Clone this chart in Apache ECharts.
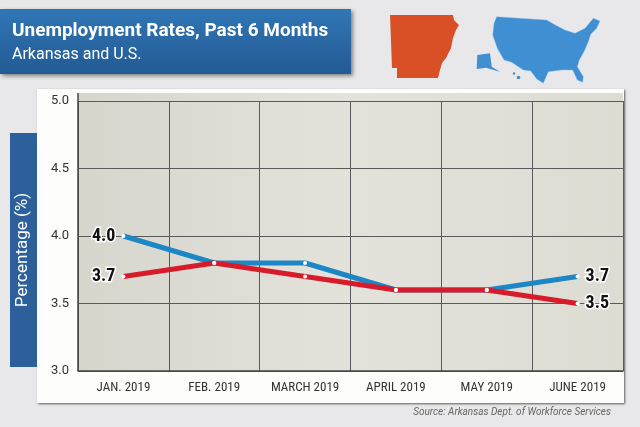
<!DOCTYPE html>
<html>
<head>
<meta charset="utf-8">
<script src="https://cdn.jsdelivr.net/npm/echarts@6/dist/echarts.min.js"></script>
<style>
  html, body { margin: 0; padding: 0; background: #e8e8ea; }
  #main { width: 640px; height: 427px; }
</style>
</head>
<body>
<div id="main"></div>
<script>
var months = ['JAN. 2019', 'FEB. 2019', 'MARCH 2019', 'APRIL 2019', 'MAY 2019', 'JUNE 2019'];
var usRates = [4.0, 3.8, 3.8, 3.6, 3.6, 3.7];
var arRates = [3.7, 3.8, 3.7, 3.6, 3.6, 3.5];
var yTicks = [3.0, 3.5, 4.0, 4.5, 5.0];

var condensed = '"Roboto Condensed", "Roboto", sans-serif';

// only first and last point get a value label
function withEndLabels(values) {
	var last = values.length - 1;
	return values.map(function (v, i) {
		return {
			value: v,
			label: {
				show: i === 0 || i === last,
				position: i === 0 ? 'left' : 'right',
				distance: 6
			}
		};
	});
}

var endLabel = {
	fontFamily: condensed,
	fontWeight: 'bold',
	fontSize: 18,
	color: '#111',
	textBorderColor: '#fff',
	textBorderWidth: 3,
	formatter: function (p) { return p.value.toFixed(1); }
};

var myChart = echarts.init(document.getElementById('main'));
var option = {
	backgroundColor: '#e8e8ea',
	animation: false,
	graphic: [
		// title box
		{
			type: 'rect', shape: { x: 0, y: 9, width: 351, height: 65 },
			style: {
				fill: new echarts.graphic.LinearGradient(0, 0, 0, 1, [
					{ offset: 0, color: '#3076b6' },
					{ offset: 1, color: '#235a92' }
				]),
				shadowBlur: 4, shadowColor: 'rgba(0,0,0,0.45)', shadowOffsetX: 2, shadowOffsetY: 2
			}
		},
		{
			type: 'text', left: 12, top: 22,
			style: { text: 'Unemployment Rates, Past 6 Months', fill: '#fff', font: 'bold 19px Roboto, sans-serif' }
		},
		{
			type: 'text', left: 12, top: 47,
			style: { text: 'Arkansas and U.S.', fill: '#fff', font: '16px Roboto, sans-serif' }
		},
		// Arkansas
		{
			type: 'polygon',
			shape: { points: [[390, 15], [453, 15], [454, 20], [459, 25], [456, 30], [453, 38], [451, 48], [446, 58], [442, 63], [440, 70], [438, 78], [397, 78], [397, 68], [392, 68]] },
			style: { fill: '#d94f26' }
		},
		// U.S.
		{
			type: 'polygon',
			shape: { points: [[496.7, 16.7], [546.7, 20], [556.7, 25.7], [565, 30], [575, 33.3], [585, 28.3], [593.3, 18.3], [600, 21], [596.7, 28.3], [590.7, 34.3], [588.3, 41.7], [584, 51.7], [579.3, 60], [577.3, 66.7], [583.3, 76.7], [582.7, 82.3], [577.3, 80], [572.7, 70], [561.7, 70], [548.3, 71.7], [543.3, 83.3], [536.7, 79], [530.7, 71], [523.3, 70], [511.7, 62.3], [504, 60], [497.3, 48.3], [492.7, 35], [494, 23.3]] },
			style: { fill: '#3f8fd2', stroke: '#8fc0ea', lineWidth: 0.4 }
		},
		{
			type: 'polygon',
			shape: { points: [[477.3, 55], [490, 53.3], [491.7, 66.7], [500, 71.7], [486, 67.7], [476.7, 69]] },
			style: { fill: '#3f8fd2' }
		},
		{ type: 'circle', shape: { cx: 514, cy: 73.5, r: 1.2 }, style: { fill: '#3f8fd2' } },
		{ type: 'circle', shape: { cx: 518.5, cy: 77.5, r: 1.8 }, style: { fill: '#3f8fd2' } },
		// white panel behind the plot
		{
			type: 'rect', z: -10, shape: { x: 37, y: 89, width: 587, height: 314 },
			style: { fill: '#fdfdfc', shadowBlur: 2, shadowColor: 'rgba(0,0,0,0.6)', shadowOffsetX: 1, shadowOffsetY: 1 }
		},
		// textured plot background
		{
			type: 'rect', z: -9, shape: { x: 78, y: 93, width: 545, height: 278 },
			style: {
				fill: new echarts.graphic.LinearGradient(0, 0, 1, 0, [
					{ offset: 0, color: '#d6d6cd' },
					{ offset: 0.5, color: '#e3e3dc' },
					{ offset: 1, color: '#dcdcd3' }
				])
			}
		},
		{
			type: 'line', z: 5, shape: { x1: 78, y1: 93, x2: 78, y2: 371 },
			style: { stroke: '#444', lineWidth: 1.5 }
		},
		// y-axis name box
		{
			type: 'rect', shape: { x: 10, y: 133, width: 27, height: 234 },
			style: { fill: '#2b609a' }
		},
		{
			type: 'text', x: 23, y: 250, rotation: Math.PI / 2,
			style: { text: 'Percentage (%)', fill: '#fff', font: '17px Roboto, sans-serif', align: 'center', verticalAlign: 'middle' }
		},
		{
			type: 'text', right: 29, top: 407,
			style: { text: 'Source: Arkansas Dept. of Workforce Services', fill: '#666', font: 'italic 10px Roboto, sans-serif' }
		}
	],
	grid: { left: 78, right: 17, top: 101, bottom: 56 },
	xAxis: {
		type: 'category',
		data: months,
		boundaryGap: true,
		axisLine: { show: true, lineStyle: { color: '#444', width: 1.5 } },
		axisTick: { show: false },
		axisLabel: { interval: 0, color: '#333', fontSize: 13, fontFamily: condensed, margin: 10 },
		splitLine: { show: true, interval: 0, lineStyle: { color: '#5a5a5a', width: 1 } }
	},
	yAxis: {
		type: 'value',
		min: yTicks[0],
		max: yTicks[yTicks.length - 1],
		interval: 0.5,
		axisLine: { show: false },
		axisTick: { show: false },
		axisLabel: { color: '#333', fontSize: 13, fontFamily: 'Roboto, sans-serif', margin: 9, formatter: function (v) { return v.toFixed(1); } },
		splitLine: { show: true, lineStyle: { color: '#5a5a5a', width: 1 } }
	},
	series: [
		{
			name: 'U.S.',
			type: 'line',
			data: withEndLabels(usRates),
			symbol: 'circle',
			symbolSize: 4,
			showAllSymbol: true,
			lineStyle: { color: '#1d86c5', width: 5 },
			itemStyle: { color: '#fff', borderWidth: 0 },
			label: endLabel,
			emphasis: { disabled: true }
		},
		{
			name: 'Arkansas',
			type: 'line',
			data: withEndLabels(arRates),
			symbol: 'circle',
			symbolSize: 4,
			showAllSymbol: true,
			lineStyle: { color: '#d81b2a', width: 5 },
			itemStyle: { color: '#fff', borderWidth: 0 },
			label: endLabel,
			emphasis: { disabled: true }
		}
	]
};
myChart.setOption(option);
</script>
</body>
</html>
